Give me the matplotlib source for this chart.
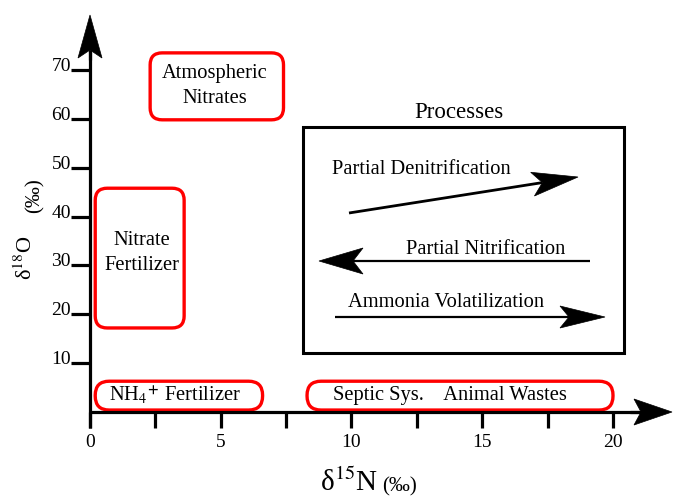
import matplotlib
matplotlib.use("Agg")
import matplotlib.pyplot as plt
from matplotlib.patches import FancyBboxPatch, Polygon, Rectangle
from matplotlib.transforms import IdentityTransform
from matplotlib.lines import Line2D
import numpy as np

# ---------------- data ----------------
source_labels = ["Atmospheric\nNitrates", "Nitrate\nFertilizer",
                 r"NH$_4$$^{\mathbf{+}}$ Fertilizer", "Septic Sys.    Animal Wastes"]
source_d15n_min = [2.3, 0.2, 0.2, 8.3]
source_d15n_max = [7.4, 3.6, 6.6, 20.0]
source_d18o_min = [59.8, 17.2, 0.4, 0.4]
source_d18o_max = [73.5, 45.8, 6.3, 6.3]

x_major_ticks = [0, 5, 10, 15, 20]
x_minor_ticks = [2.5, 7.5, 12.5, 17.5]
y_ticks = [10, 20, 30, 40, 50, 60, 70]

process_title = "Processes"
process_labels = ["Partial Denitrification", "Partial Nitrification", "Ammonia Volatilization"]

# ---------------- layout ----------------
W, H = 673, 498
plt.rcParams["font.family"] = ["Liberation Serif", "DejaVu Serif"]
plt.rcParams["mathtext.fontset"] = "stix"

fig = plt.figure(figsize=(W / 100, H / 100), dpi=100)
ax = fig.add_axes([0, 0, 1, 1])
ax.set_xlim(-90 / 26.15, (W - 90) / 26.15)
ax.set_ylim(-(H - 412) / 4.886, 412 / 4.886)
ax.axis("off")
ID = IdentityTransform()


def D(x, y):
    """data -> pixel (top-left origin)"""
    px, py = ax.transData.transform((x, y))
    return px, H - py


def P(x, y):
    """pixel (top-left origin) -> display"""
    return (x, H - y)


def line(p0, p1, lw, color="black"):
    ax.add_line(Line2D([p0[0], p1[0]], [H - p0[1], H - p1[1]], transform=ID,
                       lw=lw, color=color, solid_capstyle="butt"))


def stealth(tail, tip, L=44, Wd=12, notch=9, lw=1.6):
    t = np.array(tip, float)
    s = np.array(tail, float)
    u = (t - s) / np.linalg.norm(t - s)
    n = np.array([-u[1], u[0]])
    back = t - (L - notch) * u
    line(tail, back, lw)
    pts = [t, t - L * u + Wd * n, back, t - L * u - Wd * n]
    ax.add_patch(Polygon([P(*p) for p in pts], closed=True, transform=ID,
                         facecolor="black", edgecolor="black", lw=0.5))


def txt(x, y, s, size=14, **kw):
    kw.setdefault("ha", "center")
    kw.setdefault("va", "center")
    ax.text(*P(x, y), s, transform=ID, fontsize=size, **kw)


# axes with arrows
ox, oy = D(0, 0)
yb = D(0, -3.3)[1]
line((ox, yb), (ox, 50), 2.3)
stealth((ox, 60), (ox, 15), L=43, Wd=12, notch=8, lw=2.3)
line((ox, oy), (640, oy), 2.3)
stealth((630, oy), (672, oy), L=38, Wd=13, notch=7, lw=2.3)

# y ticks
for v in y_ticks:
    _, py = D(0, v)
    line((ox - 19, py), (ox, py), 2.3)
    txt(ox - 19, py + 1, str(v), size=14, ha="right", va="baseline")

# x ticks
for v in x_major_ticks + x_minor_ticks:
    px, _ = D(v, 0)
    line((px, oy), (px, oy + 16), 2.3)
for v in x_major_ticks:
    px, _ = D(v, 0)
    txt(px, 442, str(v), size=14)

# axis labels
txt(378, 491, r"δ$^{15}$N", size=21, ha="right", va="baseline")
txt(382, 491, "(‰)", size=15, ha="left", va="baseline")
txt(37, 280, r"δ$^{18}$O", size=16, rotation=90, ha="right", va="bottom")
txt(45, 213, "(‰)", size=15, rotation=90, ha="right", va="bottom")

# source boxes
radii = [12, 12, 14, 14]
label_pos = [(215, 86), (142, 253), (175, 395), (450, 395)]
for lab, x0, x1, y0, y1, r, lp in zip(source_labels, source_d15n_min, source_d15n_max,
                                      source_d18o_min, source_d18o_max, radii, label_pos):
    ax0, ay1 = D(x0, y1)
    ax1, ay0 = D(x1, y0)
    ax.add_patch(FancyBboxPatch(P(ax0, ay0), ax1 - ax0, ay0 - ay1,
                                boxstyle=f"round,pad=0,rounding_size={r}",
                                transform=ID, facecolor="none", edgecolor="#ff0000", lw=2.4))
    txt(lp[0], lp[1], lab, size=14.8, linespacing=1.4)

# processes panel
ax.add_patch(Rectangle(P(303, 353), 321, 226, transform=ID, facecolor="none",
                       edgecolor="black", lw=2.2))
txt(459, 112, process_title, size=16.5)
stealth((349, 213), (578, 177), L=46, Wd=12, notch=10, lw=2.0)
txt(421, 169, process_labels[0], size=14.8)
stealth((590, 261), (319, 261), L=44, Wd=13, notch=10, lw=1.6)
txt(486, 249, process_labels[1], size=14.8)
stealth((335, 317), (605, 317), L=45, Wd=11, notch=9, lw=1.6)
txt(446, 302, process_labels[2], size=14.8)

fig.savefig("out.png", dpi=100)
